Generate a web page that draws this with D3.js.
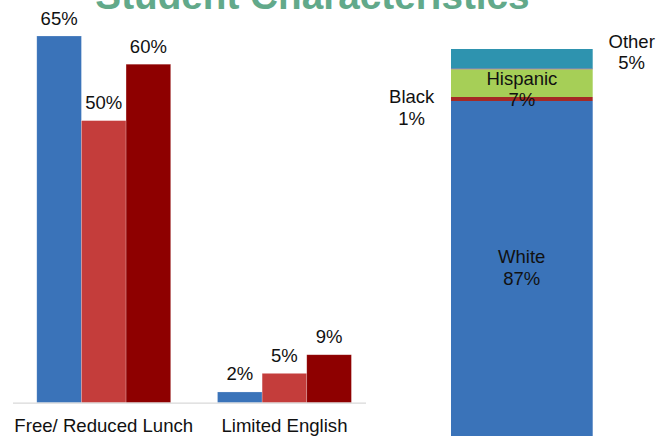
<!DOCTYPE html>
<html>
<head>
<meta charset="utf-8">
<script src="https://cdn.jsdelivr.net/npm/d3@7"></script>
<style>
  html, body { margin: 0; padding: 0; background: #fff; overflow: hidden; }
  text { font-family: "Liberation Sans", Arial, sans-serif; }
</style>
</head>
<body>
<svg id="chart" width="672" height="436"></svg>
<script>
// ---- data ----
const title = "Student Characteristics";
const categories = ["Free/ Reduced Lunch", "Limited English"];
const seriesNames = ["A", "B", "C"];
const seriesColors = ["#3a73b9", "#c43d3b", "#8e0000"];
const freeReducedLunch = [65, 50, 60];
const limitedEnglish = [1.9, 5.2, 8.5];
const groupValues = [freeReducedLunch, limitedEnglish];

const raceNames = ["White", "Black", "Hispanic", "Other"];
const raceValues = [87, 1, 7, 5];
const raceColors = ["#3a73b9", "#a52a25", "#a6cf57", "#2e93af"];

// ---- drawing ----
const svg = d3.select("#chart");

svg.append("text")
  .attr("x", 312.5).attr("y", 8.5)
  .attr("text-anchor", "middle")
  .attr("font-size", 38.7).attr("font-weight", "bold")
  .attr("fill", "#62a98a")
  .text(title);

// left grouped bar chart
const baseY = 402.7;
const y = d3.scaleLinear().domain([0, 65]).range([baseY, 36]);
const x0 = d3.scaleBand().domain(categories).range([13.3, 374.9])
  .paddingInner(0.259).paddingOuter(0.13);
const x1 = d3.scaleBand().domain(seriesNames).range([0, x0.bandwidth()]);

const groups = svg.append("g").selectAll("g")
  .data(categories.map((c, i) => ({ cat: c, vals: groupValues[i] })))
  .join("g")
  .attr("transform", d => `translate(${x0(d.cat)},0)`);

groups.selectAll("rect")
  .data(d => d.vals.map((v, j) => ({ v, s: seriesNames[j], color: seriesColors[j] })))
  .join("rect")
  .attr("x", d => x1(d.s))
  .attr("width", x1.bandwidth())
  .attr("y", d => y(d.v))
  .attr("height", d => baseY - y(d.v))
  .attr("fill", d => d.color)
  .attr("stroke", "#ffffff").attr("stroke-opacity", 0.35).attr("stroke-width", 0.6);

groups.selectAll("text.val")
  .data(d => d.vals.map((v, j) => ({ v, s: seriesNames[j] })))
  .join("text")
  .attr("class", "val")
  .attr("x", d => x1(d.s) + x1.bandwidth() / 2)
  .attr("y", d => y(d.v) - 11.5)
  .attr("text-anchor", "middle")
  .attr("font-size", 18.5).attr("fill", "#111")
  .text(d => Math.round(d.v) + "%");

svg.append("line")
  .attr("x1", 13).attr("x2", 366)
  .attr("y1", baseY + 0.5).attr("y2", baseY + 0.5)
  .attr("stroke", "#d9d9d9").attr("stroke-width", 1.2);

svg.append("g").selectAll("text")
  .data(categories)
  .join("text")
  .attr("x", d => x0(d) + x0.bandwidth() / 2)
  .attr("y", 431.5)
  .attr("text-anchor", "middle")
  .attr("font-size", 18.6).attr("fill", "#111")
  .text(d => d);

// right stacked bar
const ys = d3.scaleLinear().domain([0, 100]).range([449, 49]);
const xs = d3.scaleBand().domain(["all"]).range([451, 592.7]);
let cum = 0;
const stack = raceNames.map((n, i) => {
  const d = { name: n, v: raceValues[i], y0: cum, y1: cum + raceValues[i], color: raceColors[i] };
  cum += raceValues[i];
  return d;
});

svg.append("g").selectAll("rect")
  .data(stack)
  .join("rect")
  .attr("x", xs("all"))
  .attr("width", xs.bandwidth())
  .attr("y", d => ys(d.y1))
  .attr("height", d => ys(d.y0) - ys(d.y1))
  .attr("fill", d => d.color);

// separator between Hispanic and Other
svg.append("line")
  .attr("x1", xs("all")).attr("x2", xs("all") + xs.bandwidth())
  .attr("y1", ys(stack[2].y1)).attr("y2", ys(stack[2].y1))
  .attr("stroke", "#c586b0").attr("stroke-width", 0.8);

const labelPos = {
  White: { x: 521.7, y: 263.3 },
  Black: { x: 411.7, y: 103.3 },
  Hispanic: { x: 521.9, y: 85 },
  Other: { x: 631.7, y: 48 }
};
const lab = svg.append("g").selectAll("text")
  .data(stack)
  .join("text")
  .attr("x", d => labelPos[d.name].x)
  .attr("y", d => labelPos[d.name].y)
  .attr("text-anchor", "middle")
  .attr("font-size", 18.5).attr("fill", "#111");
lab.append("tspan").attr("x", d => labelPos[d.name].x).text(d => d.name);
lab.append("tspan").attr("x", d => labelPos[d.name].x).attr("dy", 21.3).text(d => d.v + "%");
</script>
</body>
</html>
